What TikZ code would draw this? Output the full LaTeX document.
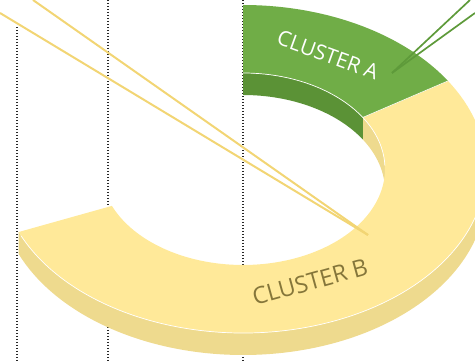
\documentclass[tikz,border=0pt]{standalone}
\usepackage{fontspec}
\setmainfont{Open Sans}
\definecolor{gtopc}{HTML}{70AD47}
\definecolor{gwallc}{HTML}{5B9236}
\definecolor{ytopc}{HTML}{FFE999}
\definecolor{ywallc}{HTML}{EEDA8E}
\definecolor{ylinec}{HTML}{F2D574}
\definecolor{glinec}{HTML}{5E9A3A}
\definecolor{btextc}{HTML}{85763A}
\begin{document}
\begin{tikzpicture}[x=1pt,y=1pt,
  guide/.style={draw=black!85,line width=1.1pt,dash pattern=on 1pt off 2pt},
  hilite/.style={draw=white,line width=0.7pt},
  yleader/.style={draw=ylinec,line width=2pt},
  gleader/.style={draw=glinec,line width=1.7pt},
  lbl/.style={inner sep=0pt}]
\useasboundingbox (0,0) rectangle (475,361);
% dotted guides
\coordinate (g1t) at (17,334); \coordinate (g1b) at (17,0);
\coordinate (g2t) at (108,361); \coordinate (g2b) at (108,0);
\coordinate (g3t) at (243,361); \coordinate (g3b) at (243,0);
\draw[guide] (g1t) -- (g1b);
\draw[guide] (g2t) -- (g2b);
\draw[guide] (g3t) -- (g3b);
\begin{scope}[shift={(243,192)}]
% yellow outer wall
\fill[ywallc] (202.6:243pt and 164pt) arc[start angle=202.6,end angle=360,x radius=243pt,y radius=164pt]
  -- ++(0,-22) arc[start angle=360,end angle=202.6,x radius=243pt,y radius=164pt] -- cycle;
% yellow inner wall
\fill[ywallc] (0:142pt and 96pt) arc[start angle=0,end angle=32.5,x radius=142pt,y radius=96pt]
  -- ++(0,-22) arc[start angle=32.5,end angle=0,x radius=142pt,y radius=96pt] -- cycle;
% green inner wall
\fill[gwallc] (32.5:142pt and 96pt) arc[start angle=32.5,end angle=90,x radius=142pt,y radius=96pt]
  -- ++(0,-22) arc[start angle=90,end angle=32.5,x radius=142pt,y radius=96pt] -- cycle;
% yellow top face
\fill[ytopc] (202.6:243pt and 164pt) arc[start angle=202.6,end angle=392.5,x radius=243pt,y radius=164pt]
  -- (392.5:142pt and 96pt) arc[start angle=392.5,end angle=202.6,x radius=142pt,y radius=96pt] -- cycle;
% green top face
\fill[gtopc] (32.5:243pt and 164pt) arc[start angle=32.5,end angle=90,x radius=243pt,y radius=164pt]
  -- (90:142pt and 96pt) arc[start angle=90,end angle=32.5,x radius=142pt,y radius=96pt] -- cycle;
% highlights
\draw[hilite] (204:243pt and 164pt) arc[start angle=204,end angle=360,x radius=243pt,y radius=164pt];
\draw[hilite] (2:142pt and 96pt) arc[start angle=2,end angle=90,x radius=142pt,y radius=96pt];
\draw[hilite,line width=0.5pt] (32.5:142pt and 96pt) -- (32.5:243pt and 164pt);
\end{scope}
% labels
\node[lbl,rotate=-20,text=white,font=\fontsize{21}{21}\selectfont] (ca) at (328,306) {CLUSTER A};
\node[lbl,rotate=15.5,text=btextc,font=\fontsize{23.5}{23.5}\selectfont] (cb) at (310,79) {CLUSTER B};
% leaders
\coordinate (yt) at (368,126);
\coordinate (ys1) at (0,348);
\coordinate (ys2) at (33,361);
\draw[yleader] (ys1) -- (yt);
\draw[yleader] (ys2) -- (yt);
\coordinate (gt) at (392,288);
\coordinate (gs1) at (470,361);
\coordinate (gs2) at (475,348);
\draw[gleader] (gs1) -- (gt);
\draw[gleader] (gs2) -- (gt);
\end{tikzpicture}
\end{document}
